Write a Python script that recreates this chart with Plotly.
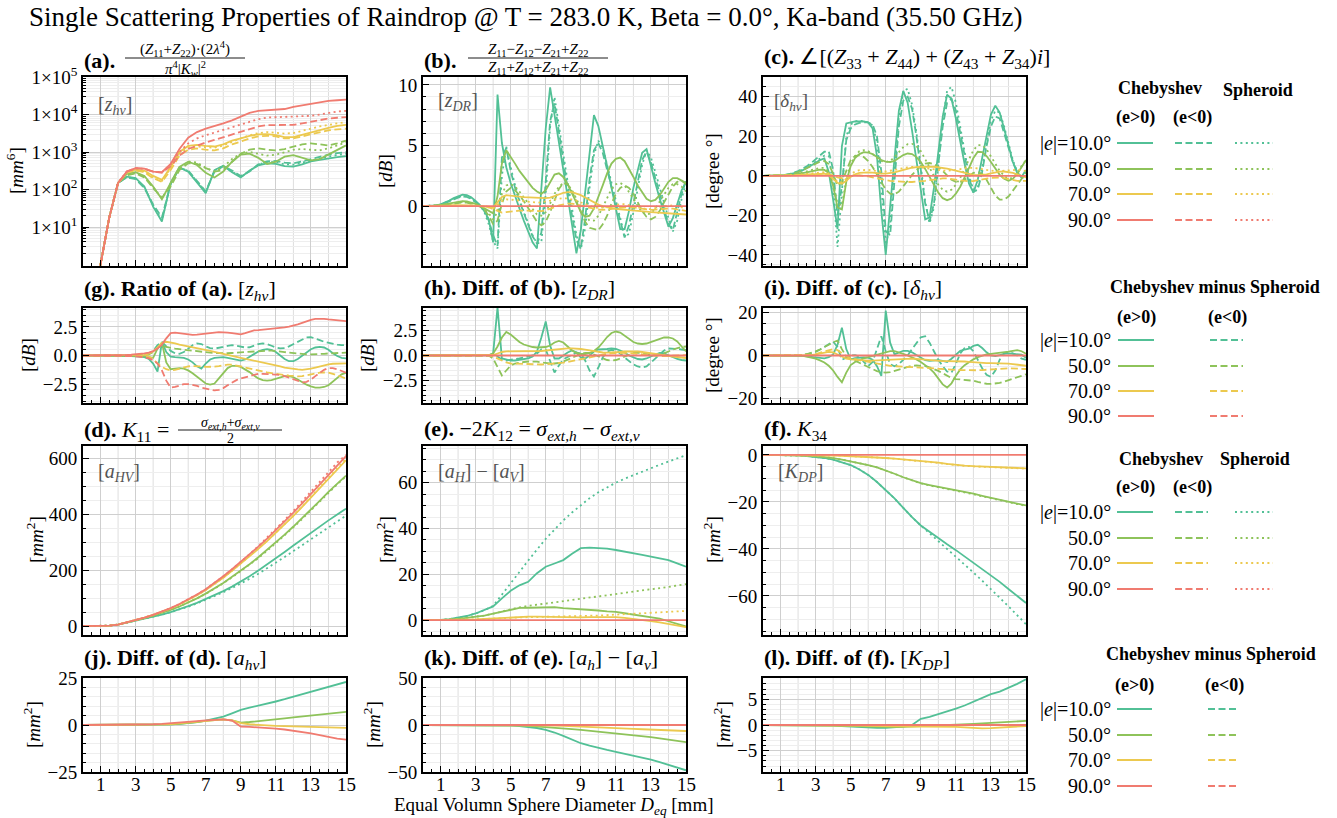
import plotly.graph_objects as go

W, H = 1337, 818
SERIF = "Liberation Serif, Times New Roman, serif"

# ---------------------------------------------------------------- data
# diameter grids [mm]
D = [0.0, 0.5, 1.0, 1.5, 2.0, 2.5, 3.0, 3.5, 4.0, 4.5, 5.0, 5.5, 6.0, 6.5, 7.0, 7.5,
     8.0, 8.5, 9.0, 9.5, 10.0, 10.5, 11.0, 11.5, 12.0, 12.5, 13.0, 13.5, 14.0, 14.5, 15.0]
DF = [0.0, 0.25, 0.5, 0.75, 1.0, 1.25, 1.5, 1.75, 2.0, 2.25, 2.5, 2.75, 3.0, 3.25, 3.5, 3.75,
      4.0, 4.25, 4.5, 4.75, 5.0, 5.25, 5.5, 5.75, 6.0, 6.25, 6.5, 6.75, 7.0, 7.25, 7.5, 7.75,
      8.0, 8.25, 8.5, 8.75, 9.0, 9.25, 9.5, 9.75, 10.0, 10.25, 10.5, 10.75, 11.0, 11.25, 11.5, 11.75,
      12.0, 12.25, 12.5, 12.75, 13.0, 13.25, 13.5, 13.75, 14.0, 14.25, 14.5, 14.75, 15.0]
ZERO_D = [0, 0, 0, 0, 0, 0, 0, 0, 0, 0, 0, 0, 0, 0, 0, 0,
          0, 0, 0, 0, 0, 0, 0, 0, 0, 0, 0, 0, 0, 0, 0]
ZERO_DF = [0, 0, 0, 0, 0, 0, 0, 0, 0, 0, 0, 0, 0, 0, 0, 0,
           0, 0, 0, 0, 0, 0, 0, 0, 0, 0, 0, 0, 0, 0, 0, 0,
           0, 0, 0, 0, 0, 0, 0, 0, 0, 0, 0, 0, 0, 0, 0, 0,
           0, 0, 0, 0, 0, 0, 0, 0, 0, 0, 0, 0, 0]

# suffix: p = Chebyshev e>0, n = Chebyshev e<0, s = spheroid

# (a) z_hv [mm^6]
zhv_10p = [0.001, 0.05, 1.0, 18, 150, 220, 200, 120, 35, 14, 150, 390, 300, 150, 80, 330,
           430, 290, 210, 320, 440, 500, 480, 420, 410, 470, 560, 620, 680, 730, 780]
zhv_10n = [0.001, 0.05, 1.0, 18, 150, 210, 190, 110, 40, 18, 140, 370, 320, 170, 90, 300,
           420, 320, 230, 300, 470, 560, 580, 520, 500, 560, 650, 750, 850, 930, 1000]
zhv_10s = [0.001, 0.05, 1.0, 18, 150, 215, 195, 115, 38, 15, 145, 380, 310, 160, 85, 320,
           430, 300, 215, 310, 460, 540, 540, 470, 460, 520, 600, 680, 760, 840, 900]
zhv_50p = [0.001, 0.05, 1.0, 18, 150, 260, 290, 230, 120, 55, 150, 400, 550, 450, 280, 210,
           300, 550, 850, 900, 700, 480, 550, 750, 820, 700, 600, 650, 850, 1150, 1500]
zhv_50n = [0.001, 0.05, 1.0, 18, 150, 240, 270, 210, 110, 60, 120, 330, 500, 480, 370, 300,
           330, 550, 900, 1150, 1250, 1150, 1100, 1200, 1400, 1600, 1700, 1600, 1500, 1700, 2000]
zhv_50s = [0.001, 0.05, 1.0, 18, 150, 250, 280, 220, 115, 58, 135, 370, 560, 520, 380, 300,
           400, 650, 900, 1000, 900, 800, 850, 1000, 1150, 1200, 1150, 1100, 1250, 1500, 1800]
zhv_70p = [0.001, 0.05, 1.0, 18, 150, 290, 340, 320, 230, 180, 400, 1000, 1450, 1550, 1450, 1400,
           1600, 2000, 2300, 2700, 2950, 3000, 2800, 2500, 2500, 2900, 3300, 3800, 4400, 5000, 5300]
zhv_70n = [0.001, 0.05, 1.0, 18, 150, 280, 320, 290, 200, 160, 330, 800, 1150, 1250, 1150, 1100,
           1250, 1600, 1900, 2300, 2600, 2700, 2600, 2300, 2300, 2600, 3000, 3400, 3800, 4000, 4200]
zhv_70s = [0.001, 0.05, 1.0, 18, 150, 285, 330, 300, 210, 170, 370, 900, 1300, 1400, 1350, 1300,
           1500, 1900, 2300, 2800, 3200, 3400, 3300, 3100, 3200, 3600, 4200, 4800, 5400, 5800, 6200]
zhv_90p = [0.001, 0.05, 1.0, 18, 150, 300, 370, 360, 300, 290, 480, 1200, 2400, 3400, 4200, 4900,
           5800, 7000, 9000, 11000, 12500, 13000, 13600, 14000, 16000, 17500, 19500, 21500, 23000, 24000, 25000]
zhv_90n = [0.001, 0.05, 1.0, 18, 150, 300, 370, 355, 300, 280, 420, 800, 1200, 1500, 1800, 2100,
           2500, 2900, 3500, 4200, 4800, 5200, 5300, 5200, 5300, 5800, 6500, 7200, 7800, 8200, 8500]
zhv_90s = [0.001, 0.05, 1.0, 18, 150, 300, 370, 358, 300, 285, 470, 1000, 1700, 2300, 2800, 3300,
           3900, 4600, 5500, 6500, 7500, 8300, 8500, 8500, 8600, 8800, 9200, 10000, 11000, 12000, 12500]

# (b) z_DR [dB]
zdr_10p = [0, 0, 0.02, 0.06, 0.14, 0.27, 0.45, 0.65,
           0.82, 0.93, 0.9, 0.72, 0.42, 0.08, -0.4, -1.1,
           -3.0, 9.2, 5.2, 3.2, 1.9, 0.8, -0.2, -1.2,
           -2.1, -3.0, -3.5, 1.5, 6.4, 9.8, 7.4, 5.2,
           3.0, 0.8, -1.4, -3.9, -2.0, 1.2, 4.1, 7.5,
           6.6, 5.0, 3.3, 1.5, -0.2, -1.9, -1.9, -0.4,
           1.5, 3.0, 4.4, 4.7, 3.2, 1.9, 0.6, -0.6,
           -1.7, -1.0, 0.2, 1.3, 2.0]
zdr_10n = [0, 0, 0.02, 0.05, 0.12, 0.23, 0.38, 0.55,
           0.7, 0.78, 0.75, 0.6, 0.35, 0.05, -0.4, -1.2,
           -2.4, -3.3, 4.0, 4.8, 2.9, 1.5, 0.4, -0.6,
           -1.6, -2.5, -3.1, -2.2, 2.0, 7.0, 8.5, 6.0,
           3.6, 1.4, -0.8, -2.8, -3.5, -1.0, 2.2, 4.6,
           5.2, 4.4, 3.0, 1.6, 0.1, -1.4, -2.6, -1.6,
           0.3, 2.2, 3.8, 4.5, 3.6, 2.3, 1.0, -0.3,
           -1.5, -2.0, -0.6, 1.0, 2.1]
zdr_10s = [0, 0, 0.02, 0.05, 0.12, 0.24, 0.4, 0.58,
           0.74, 0.82, 0.8, 0.65, 0.38, 0.06, -0.5, -1.5,
           -2.9, -3.5, 2.5, 4.9, 3.2, 1.7, 0.5, -0.5,
           -1.5, -2.4, -3.1, -3.0, 1.0, 6.5, 9.0, 6.8,
           4.3, 2.0, -0.3, -2.4, -3.6, -1.8, 1.5, 4.2,
           5.4, 4.8, 3.4, 2.0, 0.5, -1.0, -2.5, -2.3,
           -0.5, 1.6, 3.4, 4.6, 4.0, 2.8, 1.5, 0.2,
           -1.0, -2.1, -1.2, 0.6, 1.9]
zdr_50p = [0, 0, 0.01, 0.03, 0.07, 0.13, 0.2, 0.3,
           0.37, 0.4, 0.38, 0.3, 0.18, 0.02, -0.2, -0.45,
           -0.6, 0.8, 3.5, 4.6, 4.1, 3.5, 2.9, 2.4,
           1.9, 1.5, 1.2, 1.0, 1.3, 2.0, 2.6, 2.7,
           2.4, 1.8, 1.0, 0.2, -0.5, -0.9, -0.8, -0.2,
           0.7, 1.7, 2.7, 3.5, 3.9, 4.0, 3.7, 3.1,
           2.4, 1.7, 1.1, 0.6, 0.4, 0.5, 0.9, 1.5,
           2.0, 2.3, 2.3, 2.1, 1.8]
zdr_50n = [0, 0, 0.01, 0.02, 0.05, 0.1, 0.16, 0.22,
           0.27, 0.3, 0.28, 0.2, 0.1, -0.05, -0.3, -0.8,
           -1.5, -1.2, 0.2, 1.2, 1.5, 1.3, 0.9, 0.4,
           -0.2, -0.8, -1.3, -1.6, -1.3, -0.5, 0.5, 1.4,
           1.9, 1.8, 1.2, 0.4, -0.5, -1.3, -1.8, -1.9,
           -2.0, -1.5, -0.8, 0.2, 1.0, 1.5, 1.7, 1.5,
           1.0, 0.3, -0.4, -0.9, -1.1, -0.9, -0.4, 0.3,
           1.0, 1.6, 2.0, 2.1, 1.9]
zdr_50s = [0, 0, 0.01, 0.03, 0.06, 0.11, 0.18, 0.26,
           0.32, 0.35, 0.33, 0.25, 0.14, 0.0, -0.25, -0.6,
           -1.1, -0.5, 1.0, 1.7, 1.8, 1.6, 1.2, 0.7,
           0.2, -0.3, -0.7, -0.8, -0.5, 0.2, 1.0, 1.6,
           1.9, 1.8, 1.3, 0.6, -0.2, -0.8, -1.2, -1.2,
           -0.8, -0.1, 0.7, 1.4, 1.8, 1.9, 1.7, 1.2,
           0.6, 0.0, -0.5, -0.7, -0.6, -0.2, 0.4, 1.0,
           1.5, 1.8, 1.8, 1.6, 1.2]
zdr_70p = [0, 0, 0, 0.01, 0.02, 0.03, 0.05, 0.07,
           0.08, 0.09, 0.08, 0.06, 0.03, 0.0, -0.04, -0.1,
           -0.1, 0.3, 0.75, 0.9, 0.88, 0.82, 0.78, 0.74,
           0.72, 0.7, 0.68, 0.66, 0.66, 0.7, 0.8, 0.95,
           1.08, 1.15, 1.15, 1.05, 0.9, 0.7, 0.5, 0.3,
           0.12, 0.0, -0.1, -0.18, -0.24, -0.28, -0.32, -0.36,
           -0.4, -0.42, -0.45, -0.47, -0.5, -0.52, -0.55, -0.57,
           -0.6, -0.62, -0.65, -0.68, -0.7]
zdr_70n = [0, 0, 0, 0, -0.01, -0.01, -0.02, -0.02,
           -0.03, -0.03, -0.03, -0.02, -0.01, 0.0, 0.0, -0.1,
           -0.25, -0.45, -0.55, -0.5, -0.45, -0.4, -0.38, -0.38,
           -0.4, -0.43, -0.45, -0.42, -0.35, -0.25, -0.1, 0.05,
           0.15, 0.2, 0.2, 0.15, 0.05, -0.05, -0.15, -0.25,
           -0.3, -0.32, -0.3, -0.25, -0.2, -0.15, -0.1, -0.1,
           -0.12, -0.18, -0.25, -0.3, -0.32, -0.3, -0.25, -0.22,
           -0.2, -0.22, -0.28, -0.35, -0.4]
zdr_70s = [0, 0, 0, 0.01, 0.01, 0.02, 0.03, 0.04,
           0.05, 0.05, 0.05, 0.04, 0.02, 0.0, -0.05, -0.12,
           -0.2, 0.1, 0.4, 0.55, 0.55, 0.5, 0.45, 0.4,
           0.35, 0.3, 0.28, 0.3, 0.35, 0.45, 0.55, 0.62,
           0.65, 0.62, 0.55, 0.45, 0.3, 0.15, 0.0, -0.1,
           -0.15, -0.15, -0.1, 0.0, 0.1, 0.15, 0.15, 0.1,
           0.0, -0.1, -0.2, -0.25, -0.25, -0.2, -0.1, 0.0,
           0.05, 0.05, 0.0, -0.1, -0.2]

# (c) delta_hv [deg]
dhv_10p = [0, 0, 0, 0.05, 0.15, 0.35, 0.7, 1.2,
           1.9, 2.8, 3.9, 5.2, 6.6, 8.0, 8.8, 2.0,
           -12, -27, 15, 26.5, 27, 27.5, 27.5, 27.5,
           27, 24, 10, -18, -40, -16, 8, 33,
           43, 37, 23, 8, -8, -22, -21, -6,
           12, 30, 41, 39, 29, 17, 6, -4,
           -8.5, -2, 9, 21, 31, 35.5, 32, 24,
           15, 7, 1.5, -0.5, 3]
dhv_10n = [0, 0, 0, 0.05, 0.2, 0.45, 0.9, 1.5,
           2.4, 3.5, 4.9, 6.5, 8.3, 10.3, 12.2, 12.5,
           3, -20, -5, 18, 24, 26, 26.8, 27,
           27, 26, 20, 2, -28, -30, 0, 25,
           38, 40, 34, 20, 3, -14, -23, -14,
           6, 25, 37, 39, 33, 22, 10, -1,
           -8, -7, 2, 15, 25, 30, 29, 22,
           14, 7, 2, -1, -0.5]
dhv_10s = [0, 0, 0, 0.05, 0.18, 0.4, 0.8, 1.35,
           2.1, 3.1, 4.3, 5.7, 7.2, 8.8, 10.2, 10,
           -5, -36, -10, 20, 26, 27.5, 28, 27.5,
           27, 25.5, 17, -5, -35, -25, 3, 30,
           43, 44, 36, 22, 5, -13, -24, -16,
           5, 28, 43, 45, 37, 25, 12, 0,
           -7, -6, 4, 17, 28, 33, 32, 25,
           16, 8, 2, -0.5, 2]
dhv_50p = [0, 0, 0, 0.02, 0.08, 0.18, 0.35, 0.6,
           0.9, 1.3, 1.8, 2.3, 2.8, 3.1, 3.0, 1.5,
           -5, -16, -17, -3, 5, 9, 11, 12,
           11.8, 11, 9.5, 8, 7.2, 7, 7.6, 9,
           10.5, 11.3, 11, 9.5, 7, 3.5, -0.5, -4.5,
           -8.5, -11.3, -12.3, -11.5, -9, -5.5, -1, 4,
           9, 12.2, 12, 10, 7, 3.5, 0.5, -1.5,
           -2.5, -1.5, 1, 4.5, 8]
dhv_50n = [0, 0, 0, 0.05, 0.15, 0.35, 0.7, 1.2,
           1.9, 2.8, 3.8, 5, 6.2, 7.2, 7.5, 6,
           1, -5, -3, 3, 8, 10, 10.5, 9.5,
           7.5, 4.5, 0.5, -3.5, -7, -9, -9.3, -8,
           -5.5, -2.5, 0.5, 3, 5, 6.2, 6.5, 6,
           4.5, 2.5, 0, -2, -3, -3, -2, 0,
           1.5, 2, 1, -2, -6, -10, -12, -12,
           -10.5, -7.5, -4, -1, 1.5]
dhv_50s = [0, 0, 0, 0.03, 0.1, 0.25, 0.45, 0.8,
           1.2, 1.7, 2.3, 2.9, 3.5, 4, 4, 2,
           -4, -14, -15, -2, 6, 10, 12.5, 13,
           12.5, 11, 9, 7.5, 7, 7.5, 9.5, 12,
           14.5, 16, 16.2, 15, 12.5, 8.5, 4, -0.5,
           -4.5, -7, -8, -7, -4.5, -1, 3.5, 8.5,
           13, 15.5, 15.5, 13.5, 10, 6, 2.5, 0,
           -1.5, -1, 1.5, 5, 8]
dhv_70p = [0, 0, 0, 0.01, 0.03, 0.08, 0.15, 0.25,
           0.4, 0.55, 0.75, 0.95, 1.1, 1.2, 1.1, 0.4,
           -1.5, -3.5, -4, -2.5, -0.5, 0.8, 1.5, 1.8,
           1.8, 1.6, 1.3, 1.1, 1.1, 1.3, 1.8, 2.4,
           3, 3.6, 4.1, 4.4, 4.6, 4.7, 4.7, 4.6,
           4.4, 4.1, 3.7, 3.2, 2.6, 2, 1.4, 0.9,
           0.5, 0.3, 0.4, 0.8, 1.3, 1.8, 2.1, 2.2,
           2, 1.5, 0.8, 0, -0.8]
dhv_70n = [0, 0, 0, 0.01, 0.03, 0.07, 0.13, 0.22,
           0.33, 0.46, 0.6, 0.75, 0.9, 1, 1, 0.8,
           0.2, -0.8, -1.2, -0.8, -0.2, 0.2, 0.3, 0.1,
           -0.3, -0.8, -1.3, -1.8, -2.2, -2.5, -2.7, -2.9,
           -3, -3.1, -3.1, -3, -2.8, -2.5, -2.2, -1.8,
           -1.5, -1.3, -1.3, -1.5, -1.9, -2.3, -2.6, -2.7,
           -2.6, -2.3, -1.9, -1.4, -1, -0.8, -0.9, -1.2,
           -1.7, -2.2, -2.5, -2.6, -2.5]
dhv_70s = [0, 0, 0, 0.01, 0.04, 0.1, 0.2, 0.35,
           0.55, 0.8, 1.1, 1.4, 1.7, 1.9, 1.9, 1.2,
           -0.8, -3, -3.3, -1.5, 0.8, 2.2, 2.9, 3.1,
           3, 2.7, 2.4, 2.2, 2.2, 2.5, 3, 3.5,
           4, 4.3, 4.5, 4.5, 4.3, 4, 3.6, 3.2,
           2.9, 2.7, 2.6, 2.7, 3, 3.4, 3.8, 4,
           4, 3.8, 3.4, 3, 2.6, 2.4, 2.4, 2.6,
           2.9, 3.1, 3.1, 2.8, 2.4]

# (g) ratio of z_hv, Chebyshev over spheroid [dB]
rzhv_10p = [0, 0, 0, 0, 0, 0, 0, 0,
            -0.01, -0.02, -0.03, -0.05, -0.07, -0.1, -0.15, -0.3,
            -0.7, -1.4, 1.2, 0.3, -0.1, -0.15, -0.15, -0.2,
            -0.35, -0.6, -0.95, -1.15, -0.7, -0.35, -0.2, -0.15,
            -0.15, -0.2, -0.3, -0.4, -0.45, -0.35, -0.1, 0.15,
            0.35, 0.5, 0.55, 0.5, 0.3, 0.0, -0.3, -0.5,
            -0.5, -0.3, 0.0, 0.3, 0.55, 0.7, 0.75, 0.7,
            0.5, 0.2, -0.05, -0.2, -0.25]
rzhv_10n = [0, 0, 0, 0, 0, 0, 0, 0,
            0, 0, 0, 0.01, 0.01, 0.02, 0.05, 0.15,
            0.4, 0.9, 1.2, 0.8, 0.4, 0.2, 0.15, 0.3,
            0.6, 0.9, 1.05, 1.0, 0.8, 0.65, 0.6, 0.65,
            0.75, 0.85, 0.9, 0.85, 0.75, 0.7, 0.72, 0.85,
            1.0, 1.05, 1.0, 0.85, 0.7, 0.62, 0.65, 0.8,
            1.0, 1.25, 1.45, 1.58, 1.6, 1.5, 1.35, 1.2,
            1.1, 1.0, 0.95, 0.9, 0.9]
rzhv_50p = [0, 0, 0, 0, 0, 0, 0, 0,
            0, -0.01, -0.01, -0.02, -0.03, -0.04, -0.05, -0.15,
            -0.2, 0.6, 1.1, -0.6, -1.2, -1.15, -1.1, -1.15,
            -1.3, -1.55, -1.85, -2.2, -2.45, -2.55, -2.45, -2.0,
            -1.5, -1.1, -0.9, -0.9, -1.0, -1.2, -1.45, -1.75,
            -2.0, -2.15, -2.2, -2.15, -2.05, -1.9, -1.8, -1.8,
            -1.9, -2.1, -2.35, -2.55, -2.7, -2.8, -2.8, -2.75,
            -2.6, -2.3, -1.95, -1.65, -1.5]
rzhv_50n = [0, 0, 0, 0, 0, 0, 0, 0,
            0, 0, 0, 0, 0.01, 0.02, 0.04, 0.1,
            0.3, 0.7, 0.85, 0.75, 0.65, 0.6, 0.55, 0.5,
            0.45, 0.4, 0.35, 0.3, 0.28, 0.25, 0.22, 0.2,
            0.2, 0.2, 0.22, 0.25, 0.28, 0.3, 0.32, 0.35,
            0.38, 0.4, 0.42, 0.42, 0.4, 0.35, 0.3, 0.25,
            0.2, 0.15, 0.12, 0.1, 0.1, 0.1, 0.12, 0.15,
            0.18, 0.2, 0.22, 0.23, 0.25]
rzhv_70p = [0, 0, 0, 0, 0, 0, 0, 0,
            0, 0, 0, 0, 0, 0.02, 0.05, 0.15,
            0.35, 0.7, 1.1, 1.2, 1.15, 1.05, 0.95, 0.88,
            0.8, 0.72, 0.65, 0.55, 0.48, 0.4, 0.32, 0.22,
            0.12, 0.03, -0.05, -0.12, -0.2, -0.28, -0.35, -0.42,
            -0.5, -0.58, -0.65, -0.75, -0.85, -0.95, -1.05, -1.12,
            -1.18, -1.22, -1.25, -1.22, -1.15, -1.05, -0.95, -0.85,
            -0.78, -0.72, -0.7, -0.68, -0.68]
rzhv_70n = [0, 0, 0, 0, 0, 0, 0, 0,
            0, 0, 0, 0, 0, -0.01, -0.03, -0.1,
            -0.3, -0.7, -1.0, -1.2, -1.3, -1.25, -1.15, -1.05,
            -0.95, -0.92, -0.92, -0.95, -1.0, -1.0, -0.97, -0.92,
            -0.85, -0.8, -0.8, -0.85, -0.95, -1.05, -1.15, -1.25,
            -1.32, -1.4, -1.48, -1.55, -1.6, -1.65, -1.7, -1.75,
            -1.8, -1.82, -1.8, -1.72, -1.62, -1.55, -1.5, -1.48,
            -1.5, -1.6, -1.75, -1.9, -2.0]
rzhv_90p = [0, 0, 0, 0, 0.01, 0.01, 0.02, 0.03,
            0.04, 0.05, 0.06, 0.08, 0.1, 0.13, 0.18, 0.26,
            0.38, 0.6, 0.95, 1.5, 1.95, 2.0, 1.95, 1.85,
            1.8, 1.8, 1.82, 1.85, 1.9, 1.95, 2.0, 2.05,
            2.05, 2.0, 1.95, 1.9, 1.85, 1.95, 2.1, 2.2,
            2.22, 2.25, 2.28, 2.3, 2.35, 2.4, 2.45, 2.52,
            2.6, 2.72, 2.85, 3.0, 3.12, 3.2, 3.22, 3.2,
            3.15, 3.1, 3.05, 3.02, 3.0]
rzhv_90n = [0, 0, 0, 0, 0, 0, 0, -0.01,
            -0.01, -0.02, -0.03, -0.05, -0.07, -0.1, -0.15, -0.25,
            -0.4, -0.7, -1.3, -2.2, -2.8, -2.75, -2.6, -2.5,
            -2.5, -2.55, -2.65, -2.8, -2.9, -3.0, -3.05, -3.0,
            -2.85, -2.6, -2.35, -2.15, -2.0, -1.9, -1.8, -1.7,
            -1.6, -1.6, -1.62, -1.65, -1.65, -1.7, -1.8, -1.95,
            -2.1, -2.25, -2.35, -2.3, -2.1, -1.8, -1.5, -1.25,
            -1.1, -1.1, -1.2, -1.35, -1.5]

# (h) difference of z_DR [dB]
dzdr_10p = [0, 0, 0, 0, 0, 0, 0, 0,
            0, 0, 0, 0, 0, 0, 0, 0.02,
            0.2, 4.8, -0.3, -0.4, -0.5, -0.5, -0.45, -0.4,
            -0.3, -0.1, 0.4, 1.8, 3.4, 1.0, -0.3, -0.3,
            0.0, 0.3, 0.5, 0.3, -0.2, -0.3, 0.0, 0.4,
            0.6, 0.6, 0.65, 0.7, 0.65, 0.5, 0.3, 0.0,
            -0.2, -0.35, -0.4, -0.3, -0.1, 0.1, 0.25, 0.2,
            0.0, -0.2, -0.35, -0.45, -0.5]
dzdr_10n = [0, 0, 0, 0, 0, 0, 0, 0,
            0, 0, 0, 0, 0, 0, 0, 0,
            0, -0.1, -0.4, -0.5, -0.45, -0.4, -0.3, -0.2,
            -0.1, 0.0, 0.2, 0.6, 0.6, -0.5, -1.7, -1.0,
            -0.4, -0.15, 0.1, 0.3, 0.2, -0.5, -1.5, -2.1,
            -1.2, -0.2, 0.4, 0.55, 0.5, 0.2, -0.2, -0.6,
            -0.9, -1.1, -1.2, -1.1, -0.7, -0.2, 0.2, 0.5,
            0.7, 0.7, 0.65, 0.6, 0.55]
dzdr_50p = [0, 0, 0, 0, 0, 0, 0, 0,
            0, 0, 0, 0, 0, 0, 0, 0.05,
            0.2, 0.9, 1.8, 2.35, 2.1, 1.7, 1.35, 1.1,
            0.95, 0.85, 0.8, 0.8, 0.85, 1.0, 1.3, 1.45,
            1.3, 0.9, 0.5, 0.25, 0.15, 0.15, 0.25, 0.45,
            0.8, 1.3, 1.85, 2.25, 2.4, 2.3, 2.0, 1.65,
            1.35, 1.2, 1.15, 1.2, 1.35, 1.55, 1.7, 1.8,
            1.82, 1.7, 1.4, 0.9, 0.4]
dzdr_50n = [0, 0, 0, 0, 0, 0, 0, 0,
            0, 0, 0, 0, 0, 0, 0, 0,
            -0.3, -1.2, -2.0, -1.5, -1.0, -0.8, -0.7, -0.65,
            -0.6, -0.6, -0.62, -0.68, -0.75, -0.8, -0.8, -0.75,
            -0.6, -0.4, -0.2, 0.0, 0.15, 0.25, 0.25, 0.1,
            -0.1, -0.3, -0.45, -0.5, -0.45, -0.3, -0.1, 0.1,
            0.25, 0.3, 0.25, 0.15, 0.05, 0.0, 0.05, 0.2,
            0.4, 0.6, 0.75, 0.85, 0.9]
dzdr_70p = [0, 0, 0, 0, 0, 0, 0, 0,
            0, 0, 0, 0, 0, 0, 0, 0,
            0.05, 0.2, 0.35, 0.42, 0.42, 0.4, 0.38, 0.38,
            0.38, 0.4, 0.42, 0.45, 0.5, 0.55, 0.6, 0.65,
            0.7, 0.72, 0.72, 0.7, 0.65, 0.58, 0.5, 0.42,
            0.35, 0.3, 0.28, 0.28, 0.3, 0.35, 0.4, 0.42,
            0.42, 0.4, 0.35, 0.28, 0.2, 0.12, 0.05, 0.0,
            -0.05, -0.1, -0.15, -0.2, -0.25]
dzdr_70n = [0, 0, 0, 0, 0, 0, 0, 0,
            0, 0, 0, 0, 0, 0, 0, 0,
            -0.1, -0.3, -0.55, -0.7, -0.8, -0.82, -0.85, -0.88,
            -0.9, -0.92, -0.92, -0.9, -0.88, -0.85, -0.82, -0.78,
            -0.72, -0.65, -0.55, -0.45, -0.35, -0.25, -0.15, -0.05,
            0.05, 0.12, 0.18, 0.22, 0.25, 0.27, 0.27, 0.25,
            0.2, 0.15, 0.1, 0.05, 0.0, -0.03, -0.05, -0.05,
            -0.03, 0.0, 0.02, 0.03, 0.03]

# (i) difference of delta_hv [deg]
ddhv_10p = [0, 0, 0, 0, 0, 0, 0, 0,
            -0.1, -0.2, -0.4, -0.6, -0.9, -1.2, -1.3, -0.8,
            0.5, 5, 13, 3, -1.8, -1.2, -1.0, -0.9,
            -1.0, -2, -5, -9.5, 21, 6, 0.5, 1.5,
            2.2, 2.2, 1.5, 0.2, -1.2, -2.2, -2.5, -2.3,
            -2.2, -2.5, -3, -1.5, 0.5, 2.2, 2.8, 3.2,
            4.5, 5, 3.5, 1.5, 0, -0.3, 0.2, 0.8,
            1.0, 0.8, 0.5, 0.4, -1.0]
ddhv_10n = [0, 0, 0, 0, 0, 0, 0, 0,
            0, 0.2, 0.5, 1, 1.7, 2.8, 4, 5.5,
            6.5, 4, -2, -1, 0, 0.2, -0.5, -3,
            -5, -3, 3, 9, 2, -4, -5, -4,
            -2, 0, 3, 6, 8.5, 9, 6, 2,
            -2, -5, -7.5, -8, -4, 1, 3.5, 4,
            2, -2, -6, -9, -10, -7, -2, 1,
            1.5, 1, 0, -1.5, -2]
ddhv_50p = [0, 0, 0, 0, 0, 0, 0, 0,
            0, -0.2, -0.5, -0.9, -1.5, -2.3, -3.3, -4.8,
            -7, -10, -12.5, -8, -4.5, -3, -2, -1.3,
            -0.8, -0.3, 0.2, 0.8, 1.5, 2, 2, 1.5,
            0.8, 0, -0.8, -1.8, -3, -4.5, -6, -8,
            -10.5, -13.5, -15, -13, -9.5, -6.5, -4.5, -3,
            -1.8, -0.8, 0, 0.5, 0.8, 1, 1.2, 1.5,
            1.8, 2.2, 2.5, 2, 0.8]
ddhv_50n = [0, 0, 0, 0, 0, 0, 0, 0,
            0, 0.3, 0.7, 1.2, 1.9, 2.8, 3.8, 5,
            6.2, 7, 3, -0.5, -1.5, -2.5, -3.5, -4.5,
            -5.5, -6.5, -7.3, -7.8, -8, -7.8, -7.2, -6.5,
            -5.8, -5.2, -4.8, -4.6, -4.7, -5, -5.5, -6.2,
            -7.2, -8.3, -9.5, -10.5, -11, -11.2, -11.3, -11.5,
            -11.8, -12.3, -12.8, -13.2, -13.3, -13.2, -12.8, -12.2,
            -11.5, -10.8, -10, -9.3, -8.8]
ddhv_70p = [0, 0, 0, 0, 0, 0, 0, 0,
            0, 0, 0, 0.2, 0.5, 0.9, 1.3, 1.7,
            1.5, 0.5, -0.8, -1.5, -1.8, -2, -2.2, -2.3,
            -2.4, -2.4, -2.3, -2.2, -2, -1.8, -1.6, -1.5,
            -1.4, -1.4, -1.5, -1.6, -1.8, -2, -2.2, -2.4,
            -2.5, -2.6, -2.6, -2.6, -2.6, -2.7, -2.8, -3,
            -3.2, -3.4, -3.5, -3.6, -3.6, -3.6, -3.6, -3.7,
            -3.8, -4, -4.2, -4.5, -4.8]
ddhv_70n = [0, 0, 0, 0, 0, 0, 0, 0,
            0, 0, 0, 0.3, 0.7, 1.2, 1.8, 2.5,
            3, 2.5, 1, -0.3, -1.2, -1.8, -2.2, -2.6,
            -3, -3.4, -3.8, -4.2, -4.5, -4.8, -5, -5.1,
            -5.2, -5.2, -5.2, -5.3, -5.4, -5.6, -5.8, -6,
            -6.2, -6.4, -6.5, -6.6, -6.7, -6.8, -6.9, -7,
            -7, -6.9, -6.8, -6.6, -6.4, -6.3, -6.2, -6.1,
            -6, -6, -6.1, -6.2, -6.3]

# (d) K11 [mm^2]
k11_10p = [0, 0, 0.3, 1.5, 5, 12, 19, 26, 33, 41, 50, 60, 71, 83, 96, 110,
           125, 141, 158, 178, 199, 220, 242, 265, 288, 311, 334, 356, 378, 399, 420]
k11_10s = [0, 0, 0.3, 1.5, 5, 12, 19, 26, 33, 41, 50, 59, 69, 81, 94, 107,
           121, 136, 152, 169, 187, 206, 226, 247, 268, 289, 310, 331, 352, 373, 395]
k11_50p = [0, 0, 0.3, 1.5, 5, 12, 20, 28, 37, 47, 58, 70, 84, 99, 116, 134,
           154, 176, 198, 221, 246, 272, 299, 327, 356, 386, 417, 448, 480, 510, 538]
k11_50s = [0, 0, 0.3, 1.5, 5, 12, 20, 28, 37, 47, 58, 70, 84, 99, 115, 133,
           153, 174, 196, 219, 243, 269, 296, 324, 353, 383, 414, 445, 477, 507, 535]
k11_70p = [0, 0, 0.3, 1.5, 5, 13, 22, 30, 40, 51, 63, 77, 93, 110, 129, 150,
           173, 198, 223, 249, 276, 304, 333, 363, 394, 426, 459, 493, 527, 560, 593]
k11_70s = [0, 0, 0.3, 1.5, 5, 13, 22, 30, 40, 51, 63, 77, 93, 110, 129, 150,
           173, 198, 224, 250, 277, 305, 334, 364, 395, 428, 461, 495, 530, 565, 598]
k11_90p = [0, 0, 0.3, 1.5, 5, 13, 22, 30, 40, 51, 64, 79, 95, 113, 132, 154,
           178, 203, 229, 256, 284, 313, 343, 374, 406, 439, 473, 507, 541, 575, 608]
k11_90s = [0, 0, 0.3, 1.5, 5, 13, 22, 30, 40, 51, 64, 79, 95, 113, 132, 154,
           178, 203, 229, 257, 286, 316, 347, 379, 412, 446, 481, 516, 551, 585, 612]

# (e) -2 K12 [mm^2]
k12_10p = [0, 0, 0.1, 0.4, 1.0, 1.8, 2.9, 4.3, 6.0, 9.5, 12.8, 15.2, 16.7, 20.5, 23.3, 24.7,
           26.2, 29, 31.4, 31.6, 31.5, 31.2, 30.6, 30.0, 29.2, 28.5, 27.7, 27.0, 26.2, 24.8, 23.3]
k12_10s = [0, 0, 0.1, 0.4, 1.0, 1.8, 2.9, 4.3, 6.2, 11, 16, 21, 26, 31, 35.5, 39.5,
           43.5, 47, 50.2, 53.2, 55.8, 58, 60, 61.7, 63.3, 64.8, 66.3, 67.8, 69.2, 70.6, 72]
k12_50p = [0, 0, 0.05, 0.2, 0.5, 0.9, 1.4, 2.0, 2.8, 3.7, 4.7, 5.3, 5.4, 5.5, 5.9, 5.7,
           5.2, 5.0, 4.9, 4.6, 4.2, 3.8, 3.6, 3.0, 2.4, 1.8, 1.3, 0.6, -0.5, -1.6, -2.8]
k12_50s = [0, 0, 0.05, 0.2, 0.5, 0.9, 1.4, 2.0, 2.8, 3.7, 4.9, 5.6, 6.2, 6.7, 7.2, 7.7,
           8.2, 8.8, 9.4, 9.9, 10.4, 10.9, 11.4, 11.9, 12.4, 12.9, 13.3, 13.9, 14.5, 15.1, 15.7]
k12_70p = [0, 0, 0, 0.05, 0.1, 0.2, 0.3, 0.5, 0.7, 1.0, 1.3, 1.4, 1.5, 1.5, 1.4, 1.3,
           1.2, 1.2, 1.2, 1.3, 1.4, 1.4, 1.3, 1.0, 0.6, 0.2, -0.4, -1.0, -1.7, -2.4, -3.1]
k12_70s = [0, 0, 0, 0.05, 0.1, 0.2, 0.3, 0.5, 0.7, 0.9, 1.1, 1.2, 1.3, 1.35, 1.4, 1.45,
           1.5, 1.6, 1.7, 1.8, 2.0, 2.2, 2.4, 2.6, 2.8, 3.0, 3.2, 3.4, 3.6, 3.8, 4.0]

# (f) K34 [mm^2]
k34_10p = [0, 0, 0, -0.05, -0.2, -0.45, -0.8, -1.3, -2.0, -3.0, -4.3, -6.2, -8.5, -11.5, -15, -18.5,
           -22.5, -26.5, -30, -32.8, -35.5, -38, -40.5, -43.2, -45.8, -48.4, -51, -54, -57, -60, -63]
k34_10s = [0, 0, 0, -0.05, -0.2, -0.45, -0.8, -1.3, -2.0, -3.0, -4.3, -6.2, -8.5, -11.5, -15, -18.5,
           -22.5, -26.5, -30, -33.3, -36.6, -39.9, -43.2, -46.6, -50, -53.5, -57, -60.7, -64.4, -68.2, -72]
k34_50p = [0, 0, 0, -0.05, -0.15, -0.3, -0.55, -0.9, -1.4, -2, -2.7, -3.5, -4.3, -5.3, -6.5, -8,
           -9.5, -10.8, -12, -12.8, -13.5, -14.2, -14.9, -15.7, -16.5, -17.4, -18.3, -19.1, -19.9, -20.7, -21.5]
k34_50s = [0, 0, 0, -0.05, -0.15, -0.3, -0.55, -0.9, -1.4, -2, -2.7, -3.5, -4.3, -5.3, -6.5, -8,
           -9.5, -10.9, -12.1, -13, -13.7, -14.4, -15.1, -15.9, -16.7, -17.6, -18.5, -19.3, -20.1, -20.9, -21.7]
k34_70p = [0, 0, 0, 0, -0.02, -0.05, -0.1, -0.15, -0.25, -0.35, -0.5, -0.7, -0.9, -1.1, -1.3, -1.6,
           -1.9, -2.15, -2.4, -2.85, -3.3, -3.8, -4.3, -4.55, -4.8, -5.0, -5.2, -5.35, -5.5, -5.6, -5.7]
k34_70s = [0, 0, 0, 0, -0.02, -0.05, -0.1, -0.15, -0.25, -0.35, -0.5, -0.7, -0.9, -1.1, -1.3, -1.6,
           -1.9, -2.2, -2.5, -2.9, -3.4, -3.9, -4.4, -4.65, -4.9, -5.1, -5.3, -5.45, -5.6, -5.7, -5.8]

# (j) difference of K11 [mm^2]
dk11_10 = [0, 0, 0, 0, 0, 0, -0.1, -0.1, 0, 0.1, 0.3, 0.6, 1.0, 1.6, 2.3, 3.2,
           4.5, 6.2, 8.0, 9.2, 10.2, 11.3, 12.5, 13.7, 15.0, 16.2, 17.5, 18.8, 20.1, 21.5, 22.9]
dk11_50 = [0, 0, 0, 0, 0, 0, -0.1, -0.1, 0, 0.1, 0.3, 0.6, 1.0, 1.6, 2.2, 2.8,
           3.0, 2.5, 1.3, 1.6, 2.0, 2.5, 3.0, 3.5, 4.0, 4.5, 5.0, 5.3, 5.7, 6.3, 7.0]
dk11_70 = [0, 0, 0, 0, 0, 0, 0, 0, 0.1, 0.3, 0.5, 0.9, 1.4, 1.9, 2.4, 2.8,
           3.0, 2.4, 1.0, 0.4, 0.0, -0.3, -0.5, -0.65, -0.8, -0.9, -1.0, -1.1, -1.2, -1.35, -1.5]
dk11_90 = [0, 0, 0, 0, 0, 0, 0.05, 0.2, 0.4, 0.6, 0.9, 1.3, 1.7, 2.1, 2.5, 2.8,
           3.0, 2.4, -0.8, -1.0, -1.2, -1.5, -1.9, -2.4, -3.0, -3.7, -4.5, -5.4, -6.4, -7.2, -7.8]

# (k) difference of -2 K12 [mm^2]
dk12_10 = [0, 0, 0, 0, 0, 0, 0, 0, 0, -0.2, -0.6, -1.2, -2.0, -3.2, -5.3, -8.0,
           -11.6, -15.5, -19.4, -22, -24.5, -26.5, -28.5, -30.5, -32.5, -34.5, -36.8, -39.5, -42.5, -45.5, -48.2]
dk12_50 = [0, 0, 0, 0, 0, 0, 0, 0, 0, 0, -0.2, -0.5, -1.0, -1.5, -2.1, -2.8,
           -3.5, -4.3, -5.2, -6.1, -7.0, -8.0, -9.0, -10.0, -11.0, -12.0, -13.0, -14.2, -15.4, -16.8, -18.3]
dk12_70 = [0, 0, 0, 0, 0, 0, 0, 0, 0, 0, 0, -0.1, -0.2, -0.35, -0.5, -0.7,
           -1.0, -1.3, -1.6, -2.0, -2.5, -3.0, -3.5, -3.8, -4.1, -4.5, -5.0, -5.4, -5.8, -6.1, -6.4]

# (l) difference of K34 [mm^2]
dk34_10 = [0, 0, 0, 0, 0, 0, 0, -0.05, -0.1, -0.2, -0.3, -0.4, -0.5, -0.55, -0.55, -0.45,
           -0.3, 0, 1.2, 1.6, 2.1, 2.6, 3.2, 3.8, 4.5, 5.2, 6.0, 6.5, 7.2, 8.0, 8.9]
dk34_50 = [0, 0, 0, 0, 0, 0, 0, -0.05, -0.1, -0.15, -0.2, -0.3, -0.35, -0.4, -0.45, -0.4,
           -0.35, -0.3, -0.25, -0.15, -0.05, 0, 0.05, 0.1, 0.2, 0.3, 0.4, 0.5, 0.6, 0.7, 0.8]
dk34_70 = [0, 0, 0, 0, 0, 0, 0, 0, -0.05, -0.1, -0.1, -0.1, -0.15, -0.2, -0.2, -0.2,
           -0.25, -0.3, -0.3, -0.3, -0.3, -0.3, -0.35, -0.45, -0.6, -0.65, -0.6, -0.5, -0.35, -0.25, -0.2]

ANGLES = [10, 50, 70, 90]
ANGLE_LABELS = ["10.0°", "50.0°", "70.0°", "90.0°"]
X_TICKS = [1, 3, 5, 7, 9, 11, 13, 15]

# ---------------------------------------------------------------- style
COLOR = {10: "#52c096", 50: "#8ec35a", 70: "#ecc94f", 90: "#f07b70"}
DASH = {"p": "solid", "n": "7px,3.5px", "s": "2px,3.4px"}
LW = 1.8
GRID = "#cfcfcf"
GRID_MINOR = "#eeeeee"
TICK_FS = 19

COLS = [(83, 346), (423, 686), (763, 1026)]
ROWS = [(77, 266), (308, 403), (446, 635), (678, 772)]


def minus(vals):
    return [("−" + s[1:]) if s.startswith("-") else s for s in vals]


PANELS = [
    dict(r=0, c=0, x=D, log=True, yr=[-0.04, 5.0],
         tv=[10, 100, 1000, 10000, 100000],
         tt=["1×10<sup>1</sup>", "1×10<sup>2</sup>", "1×10<sup>3</sup>", "1×10<sup>4</sup>", "1×10<sup>5</sup>"],
         s={(10, "p"): zhv_10p, (10, "n"): zhv_10n, (10, "s"): zhv_10s,
            (50, "p"): zhv_50p, (50, "n"): zhv_50n, (50, "s"): zhv_50s,
            (70, "p"): zhv_70p, (70, "n"): zhv_70n, (70, "s"): zhv_70s,
            (90, "p"): zhv_90p, (90, "n"): zhv_90n, (90, "s"): zhv_90s}),
    dict(r=0, c=1, x=DF, yr=[-4.95, 10.65], tv=[0, 5, 10], tt=["0", "5", "10"], md=1,
         s={(10, "p"): zdr_10p, (10, "n"): zdr_10n, (10, "s"): zdr_10s,
            (50, "p"): zdr_50p, (50, "n"): zdr_50n, (50, "s"): zdr_50s,
            (70, "p"): zdr_70p, (70, "n"): zdr_70n, (70, "s"): zdr_70s,
            (90, "p"): ZERO_DF}),
    dict(r=0, c=2, x=DF, yr=[-45.6, 50], tv=[-40, -20, 0, 20, 40], tt=minus(["-40", "-20", "0", "20", "40"]), md=5,
         s={(10, "p"): dhv_10p, (10, "n"): dhv_10n, (10, "s"): dhv_10s,
            (50, "p"): dhv_50p, (50, "n"): dhv_50n, (50, "s"): dhv_50s,
            (70, "p"): dhv_70p, (70, "n"): dhv_70n, (70, "s"): dhv_70s,
            (90, "p"): ZERO_DF}),
    dict(r=1, c=0, x=DF, yr=[-4.15, 4.15], tv=[-2.5, 0, 2.5], tt=minus(["-2.5", "0.0", "2.5"]), md=0.5,
         s={(10, "p"): rzhv_10p, (10, "n"): rzhv_10n, (50, "p"): rzhv_50p, (50, "n"): rzhv_50n,
            (70, "p"): rzhv_70p, (70, "n"): rzhv_70n, (90, "p"): rzhv_90p, (90, "n"): rzhv_90n}),
    dict(r=1, c=1, x=DF, yr=[-4.75, 4.75], tv=[-2.5, 0, 2.5], tt=minus(["-2.5", "0.0", "2.5"]), md=0.5,
         s={(10, "p"): dzdr_10p, (10, "n"): dzdr_10n, (50, "p"): dzdr_50p, (50, "n"): dzdr_50n,
            (70, "p"): dzdr_70p, (70, "n"): dzdr_70n, (90, "p"): ZERO_DF}),
    dict(r=1, c=2, x=DF, yr=[-22.2, 22.2], tv=[-20, 0, 20], tt=minus(["-20", "0", "20"]), md=5,
         s={(10, "p"): ddhv_10p, (10, "n"): ddhv_10n, (50, "p"): ddhv_50p, (50, "n"): ddhv_50n,
            (70, "p"): ddhv_70p, (70, "n"): ddhv_70n, (90, "p"): ZERO_DF}),
    dict(r=2, c=0, x=D, yr=[-32, 644], tv=[0, 200, 400, 600], tt=["0", "200", "400", "600"], md=50,
         s={(10, "p"): k11_10p, (10, "s"): k11_10s, (50, "p"): k11_50p, (50, "s"): k11_50s,
            (70, "p"): k11_70p, (70, "s"): k11_70s, (90, "p"): k11_90p, (90, "s"): k11_90s}),
    dict(r=2, c=1, x=D, yr=[-6.5, 76], tv=[0, 20, 40, 60], tt=["0", "20", "40", "60"], md=5,
         s={(10, "p"): k12_10p, (10, "s"): k12_10s, (50, "p"): k12_50p, (50, "s"): k12_50s,
            (70, "p"): k12_70p, (70, "s"): k12_70s, (90, "p"): ZERO_D}),
    dict(r=2, c=2, x=D, yr=[-76.6, 3.8], tv=[-60, -40, -20, 0], tt=minus(["-60", "-40", "-20", "0"]), md=5,
         s={(10, "p"): k34_10p, (10, "s"): k34_10s, (50, "p"): k34_50p, (50, "s"): k34_50s,
            (70, "p"): k34_70p, (70, "s"): k34_70s, (90, "p"): ZERO_D}),
    dict(r=3, c=0, x=D, yr=[-25, 25], tv=[-25, 0, 25], tt=minus(["-25", "0", "25"]), md=5,
         s={(10, "p"): dk11_10, (50, "p"): dk11_50, (70, "p"): dk11_70, (90, "p"): dk11_90}),
    dict(r=3, c=1, x=D, yr=[-50, 50], tv=[-50, 0, 50], tt=minus(["-50", "0", "50"]), md=10,
         s={(10, "p"): dk12_10, (50, "p"): dk12_50, (70, "p"): dk12_70, (90, "p"): ZERO_D}),
    dict(r=3, c=2, x=D, yr=[-9.15, 9.15], tv=[-5, 0, 5], tt=minus(["-5", "0", "5"]), md=1,
         s={(10, "p"): dk34_10, (50, "p"): dk34_50, (70, "p"): dk34_70, (90, "p"): ZERO_D}),
]

for p in PANELS:
    for v in p["s"].values():
        assert len(v) == len(p["x"]), (p["r"], p["c"], len(v))

fig = go.Figure()
shapes = []
annotations = []


def px(x):
    return x / W


def py(y):
    return 1 - y / H


def text(t, x, y, size=18, xa="left", ya="middle", color="black", angle=0, xref="paper"):
    annotations.append(dict(text=t, x=(x if xref != "paper" else px(x)), y=py(y), xref=xref, yref="paper",
                            showarrow=False, xanchor=xa, yanchor=ya, textangle=angle, borderpad=0,
                            font=dict(family=SERIF, size=size, color=color)))


def hline(x0, x1, y, color="black", width=1.0, dash="solid"):
    shapes.append(dict(type="line", xref="paper", yref="paper", x0=px(x0), x1=px(x1), y0=py(y), y1=py(y),
                       line=dict(color=color, width=width, dash=dash)))


layout_axes = {}
for i, p in enumerate(PANELS, start=1):
    sfx = "" if i == 1 else str(i)
    for ang in ANGLES:
        for st in ("p", "n", "s"):
            vals = p["s"].get((ang, st))
            if vals is None:
                continue
            fig.add_trace(go.Scatter(
                x=p["x"], y=vals, mode="lines", xaxis="x" + sfx, yaxis="y" + sfx,
                line=dict(color=COLOR[ang], width=LW, dash=DASH[st]),
                showlegend=False, hoverinfo="skip"))
    c0, c1 = COLS[p["c"]]
    r0, r1 = ROWS[p["r"]]
    layout_axes["xaxis" + sfx] = dict(
        domain=[px(c0), px(c1)], anchor="y" + sfx, range=[0, 15], automargin=False,
        tickmode="array", tickvals=X_TICKS, ticktext=[str(t) for t in X_TICKS],
        showticklabels=False, ticks="inside", ticklen=6, tickwidth=1.3, tickcolor="black",
        showline=True, mirror=True, linecolor="black", linewidth=1.8,
        showgrid=True, gridcolor=GRID, gridwidth=1, zeroline=False,
        minor=dict(ticks="inside", ticklen=3, tickwidth=1, tickcolor="black",
                   tickmode="linear", tick0=0, dtick=0.5, showgrid=False))
    # diameter labels under the bottom row, placed on the axis' own scale
    if p["r"] == 3:
        for t in X_TICKS:
            text(str(t), t, 784, TICK_FS, xa="center", xref="x" + sfx)
    yax = dict(
        domain=[py(r1), py(r0)], anchor="x" + sfx, range=p["yr"], automargin=False,
        tickmode="array", tickvals=p["tv"], ticktext=p["tt"],
        ticks="inside", ticklen=6, tickwidth=1.3, tickcolor="black",
        showline=True, mirror=True, linecolor="black", linewidth=1.8,
        showgrid=True, gridcolor=GRID, gridwidth=1, zeroline=False,
        tickfont=dict(family=SERIF, size=TICK_FS, color="black"))
    if p.get("log"):
        yax["type"] = "log"
        yax["minor"] = dict(ticks="inside", ticklen=3, tickwidth=1, tickcolor="black",
                            tickvals=[k * 10 ** e for e in range(0, 5) for k in range(2, 10)],
                            showgrid=True, gridcolor=GRID_MINOR)
    else:
        yax["minor"] = dict(ticks="inside", ticklen=3, tickwidth=1, tickcolor="black",
                            tickmode="linear", tick0=0, dtick=p["md"],
                            showgrid=True, gridcolor=GRID_MINOR)
    layout_axes["yaxis" + sfx] = yax
    # lighter vertical grid at even diameters
    for v in range(2, 15, 2):
        shapes.append(dict(type="line", xref="x" + sfx, yref="y" + sfx + " domain", x0=v, x1=v, y0=0, y1=1,
                           layer="below", line=dict(color="#dedede", width=1)))

# ---------------------------------------------------------------- texts
text("Single Scattering Properties of Raindrop @ T = 283.0 K, Beta = 0.0°, Ka-band (35.50 GHz)",
     525, 17, size=27, xa="center")


def frac(num, den, xc, ybar, half, size=14, gap_num=9, gap_den=10):
    text(num, xc, ybar - gap_num, size=size, xa="center")
    text(den, xc, ybar + gap_den, size=size, xa="center")
    hline(xc - half, xc + half, ybar, width=0.9)


TS = 22  # panel title size
# row 1
text("<b>(a).</b>", 83, 60, TS)
frac("(<i>Z</i><sub>11</sub>+<i>Z</i><sub>22</sub>)·(2<i>λ</i><sup>4</sup>)",
     "<i>π</i><sup>4</sup>|<i>K<sub>w</sub></i>|<sup>2</sup>", 185, 58, 60, size=15, gap_num=9, gap_den=11)
text("<b>(b).</b>", 423, 60, TS)
frac("<i>Z</i><sub>11</sub>−<i>Z</i><sub>12</sub>−<i>Z</i><sub>21</sub>+<i>Z</i><sub>22</sub>",
     "<i>Z</i><sub>11</sub>+<i>Z</i><sub>12</sub>+<i>Z</i><sub>21</sub>+<i>Z</i><sub>22</sub>", 538, 58, 70,
     size=15, gap_num=8, gap_den=10)
text("<b>(c).</b> ∠[(<i>Z</i><sub>33</sub> + <i>Z</i><sub>44</sub>) + (<i>Z</i><sub>43</sub> + <i>Z</i><sub>34</sub>)<i>i</i>]",
     763, 58, TS)
# row 2
text("<b>(g). Ratio of (a).</b> [<i>z<sub>hv</sub></i>]", 83, 290, TS)
text("<b>(h). Diff. of (b).</b> [<i>z<sub>DR</sub></i>]", 423, 289, TS)
text("<b>(i). Diff. of (c).</b> [<i>δ<sub>hv</sub></i>]", 763, 289, TS)
# row 3
text("<b>(d).</b> <i>K</i><sub>11</sub> =", 83, 431, TS)
frac("<i>σ<sub>ext,h</sub></i>+<i>σ<sub>ext,v</sub></i>", "2", 230, 430, 52, size=14, gap_num=7, gap_den=8)
text("<b>(e).</b> −2<i>K</i><sub>12</sub> = <i>σ<sub>ext,h</sub></i> − <i>σ<sub>ext,v</sub></i>", 423, 430, TS)
text("<b>(f).</b> <i>K</i><sub>34</sub>", 763, 430, TS)
# row 4
text("<b>(j). Diff. of (d).</b> [<i>a<sub>hv</sub></i>]", 83, 659, TS)
text("<b>(k). Diff. of (e).</b> [<i>a<sub>h</sub></i>] − [<i>a<sub>v</sub></i>]", 423, 659, TS)
text("<b>(l). Diff. of (f).</b> [<i>K<sub>DP</sub></i>]", 763, 659, TS)

# quantity tags inside the panels
TAG = "#555555"
text("[<i>z<sub>hv</sub></i>]", 97, 105, 20, color=TAG)
text("[<i>z<sub>DR</sub></i>]", 437, 102, 20, color=TAG)
text("[<i>δ<sub>hv</sub></i>]", 773, 102, 19, color=TAG)
text("[<i>a<sub>HV</sub></i>]", 97, 472, 20, color=TAG)
text("[<i>a<sub>H</sub></i>] − [<i>a<sub>V</sub></i>]", 437, 472, 20, color=TAG)
text("[<i>K<sub>DP</sub></i>]", 777, 472, 20, color=TAG)

# y-axis titles
MM2 = "[<i>mm</i><sup>2</sup>]"
DB = "[<i>dB</i>]"
DEG = "[degree °]"
for t, x, y in [("[<i>mm</i><sup>6</sup>]", 15, 171), (DB, 385, 171), (DEG, 712, 171),
                (DB, 28, 355), (DB, 367, 355), (DEG, 712, 355),
                (MM2, 35, 540), (MM2, 385, 540), (MM2, 712, 540),
                (MM2, 32, 725), (MM2, 372, 725), (MM2, 722, 725)]:
    text(t, x, y, 19, xa="center", angle=-90)

text("Equal Volumn Sphere Diameter <i>D<sub>eq</sub></i> [mm]", 554, 806, 19, xa="center")


# ---------------------------------------------------------------- legend blocks
def legend_rows(rows_y, segs):
    for k, (ang, lab) in enumerate(zip(ANGLES, ANGLE_LABELS)):
        label = ("|<i>e</i>|=" + lab) if k == 0 else lab
        text(label, 1112, rows_y[k], 20, xa="right")
        for (x0, x1, st) in segs:
            hline(x0, x1, rows_y[k], color=COLOR[ang], width=2.0, dash=DASH[st])


# block for (a)-(c)
text("<b>Chebyshev</b>", 1160, 88, 18, xa="center")
text("<b>Spheroid</b>", 1258, 90, 18, xa="center")
text("<b>(e>0)</b>", 1135, 118, 18, xa="center")
text("<b>(e<0)</b>", 1192, 118, 18, xa="center")
legend_rows([143, 169, 194, 220], [(1117, 1153, "p"), (1175, 1212, "n"), (1235, 1273, "s")])

# block for (g)-(i)
text("<b>Chebyshev minus Spheroid</b>", 1215, 287, 18, xa="center")
text("<b>(e>0)</b>", 1136, 317, 18, xa="center")
text("<b>(e<0)</b>", 1227, 317, 18, xa="center")
legend_rows([340, 366, 391, 416], [(1118, 1154, "p"), (1210, 1243, "n")])

# block for (d)-(f)
text("<b>Chebyshev</b>", 1161, 459, 18, xa="center")
text("<b>Spheroid</b>", 1255, 459, 18, xa="center")
text("<b>(e>0)</b>", 1135, 487, 18, xa="center")
text("<b>(e<0)</b>", 1192, 487, 18, xa="center")
legend_rows([512, 538, 563, 589], [(1117, 1153, "p"), (1175, 1208, "n"), (1235, 1273, "s")])

# block for (j)-(l)
text("<b>Chebyshev minus Spheroid</b>", 1211, 654, 18, xa="center")
text("<b>(e>0)</b>", 1134, 685, 18, xa="center")
text("<b>(e<0)</b>", 1224, 685, 18, xa="center")
legend_rows([709, 735, 760, 786], [(1117, 1152, "p"), (1208, 1236, "n")])

fig.update_layout(
    width=W, height=H, autosize=False,
    margin=dict(l=0, r=0, t=0, b=0, pad=0, autoexpand=False),
    paper_bgcolor="white", plot_bgcolor="white",
    font=dict(family=SERIF, size=17, color="black"),
    showlegend=False,
    shapes=shapes, annotations=annotations,
    **layout_axes)

fig.write_html("out.html")
